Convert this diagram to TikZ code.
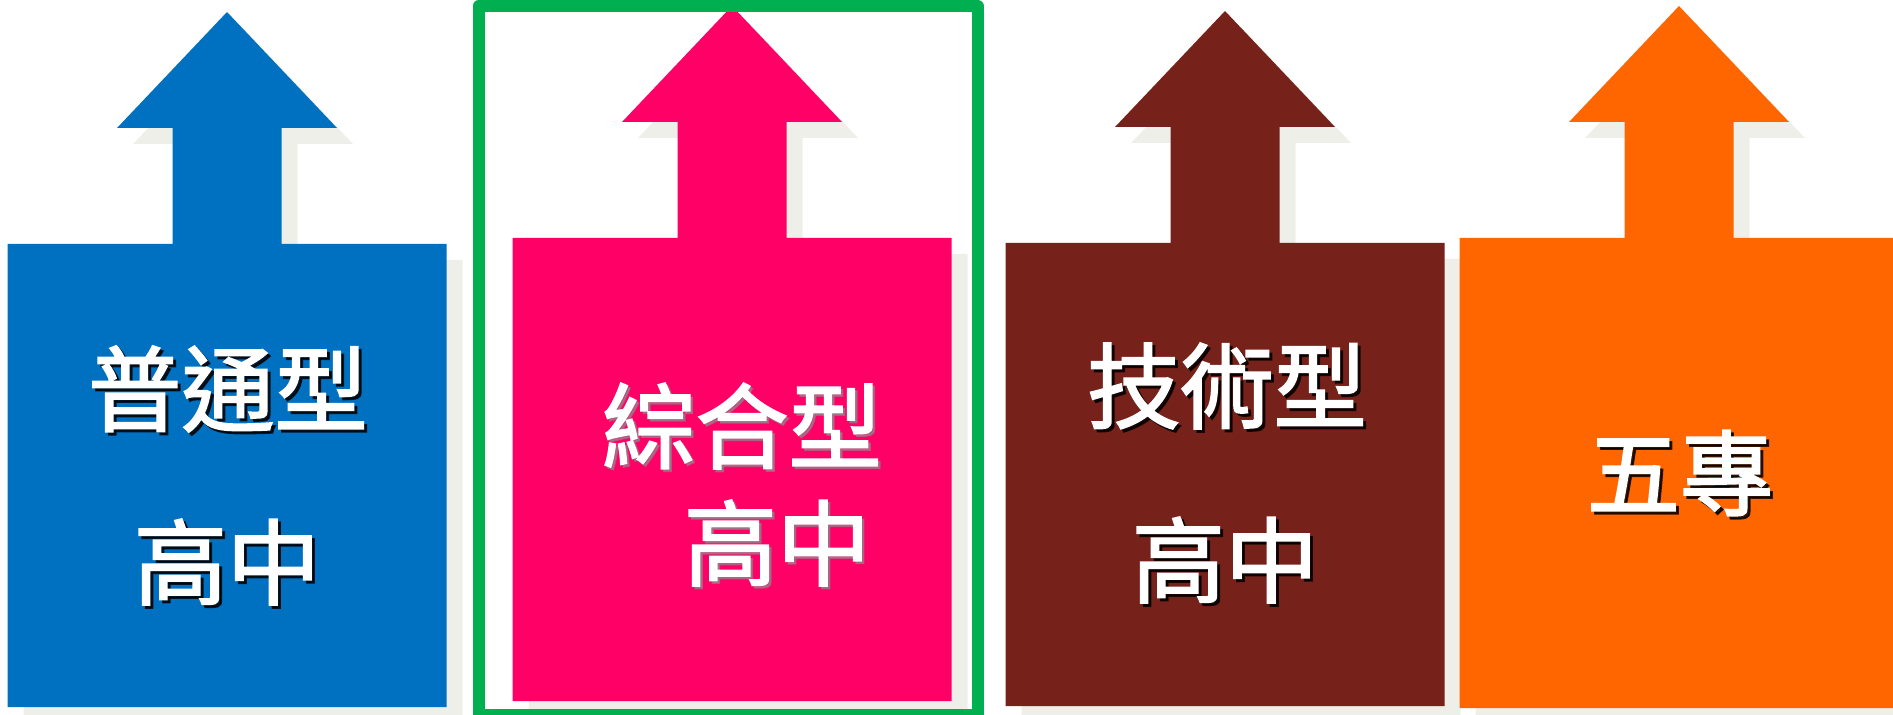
\documentclass[tikz,border=0pt]{standalone}
\usepackage{fontspec}
\newfontfamily\cjk[FakeBold=2]{Noto Sans CJK TC}
\usepackage{xcolor}
\usetikzlibrary{positioning}
\definecolor{lanse}{HTML}{0070C0}
\definecolor{fenhong}{HTML}{FF0066}
\definecolor{zongse}{HTML}{76221A}
\definecolor{chengse}{HTML}{FF6600}
\definecolor{lvse}{HTML}{00B050}
\definecolor{yingzi}{HTML}{EFEFEA}
\tikzset{
  zi/.style={text=white, font=\cjk\fontsize{53}{60}\selectfont, inner sep=0pt},
  heiying/.style={zi, text=black, opacity=0.8, xshift=0.06cm, yshift=-0.06cm},
  huiying/.style={zi, text=black!45, opacity=0.6, xshift=0.05cm, yshift=-0.05cm},
}
% 向上箭头加方框: 顶点x, 顶点y, 底边, 颜色
\newcommand{\shangjian}[4]{%
  \fill[#4, shift={(#1,#2)}] (0,0) -- (110,116) -- (54.5,116) -- (54.5,232)
    -- (219.5,232) -- (219.5,#3) -- (-219.5,#3) -- (-219.5,232)
    -- (-54.5,232) -- (-54.5,116) -- (-110,116) -- cycle;}

\begin{document}
\begin{tikzpicture}[x=0.02cm, y=-0.02cm]
  \useasboundingbox (0,0) rectangle (1893,715);
  \clip (0,0) rectangle (1893,715);

  % 阴影和箭头
  \shangjian{243}{28}{695}{yingzi}
  \shangjian{227}{12}{695}{lanse}
  \shangjian{748}{22}{695}{yingzi}
  \shangjian{732}{6}{695}{fenhong}
  \shangjian{1241}{27}{695}{yingzi}
  \shangjian{1225}{11}{695}{zongse}
  \shangjian{1695}{22}{702}{yingzi}
  \shangjian{1679}{6}{702}{chengse}

  % 绿框
  \draw[lvse, line width=0.24cm, line join=round] (478.5,6) rectangle (977.5,715);

  % 普通型高中
  \node[heiying] (pt1s) at (228,389) {普通型};
  \node[zi] (pt1) at (228,389) {普通型};
  \node[heiying] (pt2s) at (227,562) {高中};
  \node[zi] (pt2) at (227,562) {高中};

  % 綜合型高中
  \node[huiying] (zh1s) at (742,426) {綜合型};
  \node[zi] (zh1) at (742,426) {綜合型};
  \node[huiying] (zh2s) at (777,543) {高中};
  \node[zi] (zh2) at (777,543) {高中};

  % 技術型高中
  \node[heiying] (js1s) at (1227,386) {技術型};
  \node[zi] (js1) at (1227,386) {技術型};
  \node[heiying] (js2s) at (1225,560) {高中};
  \node[zi] (js2) at (1225,560) {高中};

  % 五專
  \node[heiying] (wzs) at (1680,473) {五專};
  \node[zi] (wz) at (1680,473) {五專};
\end{tikzpicture}
\end{document}
